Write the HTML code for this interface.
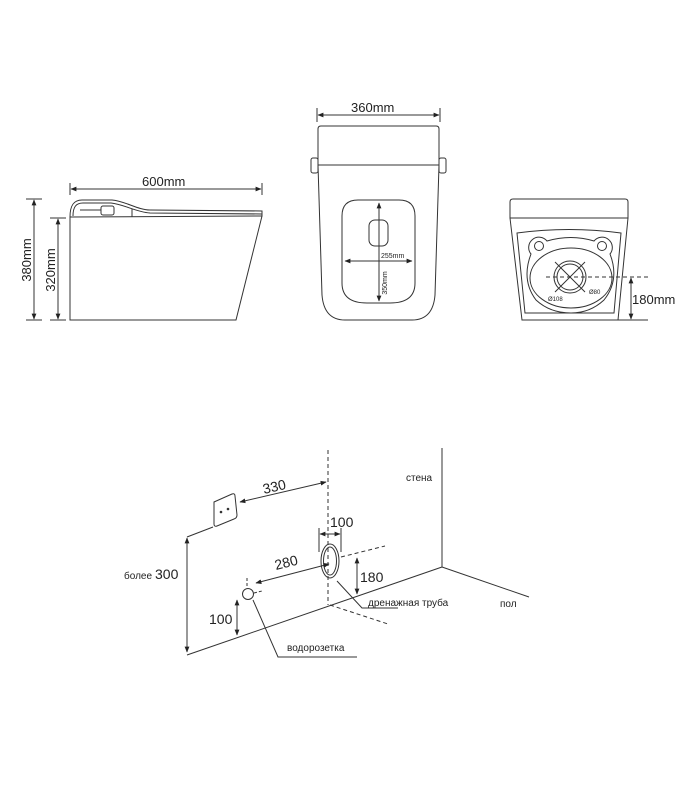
<!DOCTYPE html>
<html><head><meta charset="utf-8"><style>
html,body{margin:0;padding:0;background:#fff}
svg{display:block}
text{font-family:"Liberation Sans","DejaVu Sans",sans-serif;fill:#222}
</style></head><body>
<svg width="700" height="800" viewBox="0 0 700 800" xmlns="http://www.w3.org/2000/svg">
<defs>
<marker id="a" viewBox="0 0 10 10" refX="9" refY="5" markerWidth="6" markerHeight="6" orient="auto-start-reverse"><path d="M0,1 L10,5 L0,9 z" fill="#222"/></marker>
</defs>
<g stroke="#333" stroke-width="1" fill="none">
<!-- side view -->
<line x1="70" y1="183" x2="70" y2="195"/><line x1="262" y1="183" x2="262" y2="195"/>
<line x1="71" y1="189" x2="261" y2="189" marker-start="url(#a)" marker-end="url(#a)"/>
<path d="M70,217 C70,205 74,200 82,200 L112,200 C125,201 138,210 150,210 L262,211 L262,216 L70,217"/>
<path d="M73,216 C73,207 76,203 83,203 L111,203 C123,204 136,212 150,213 L262,214"/>
<rect x="101" y="206" width="13" height="9" rx="2"/>
<line x1="80" y1="210" x2="101" y2="210"/>
<line x1="132" y1="209" x2="132" y2="217"/>
<path d="M70,217 L70,320 L236,320 L262,216"/>
<line x1="26" y1="199" x2="42" y2="199"/><line x1="26" y1="320" x2="42" y2="320"/>
<line x1="34" y1="200" x2="34" y2="319" marker-start="url(#a)" marker-end="url(#a)"/>
<line x1="50" y1="218" x2="66" y2="218"/><line x1="50" y1="320" x2="66" y2="320"/>
<line x1="58" y1="219" x2="58" y2="319" marker-start="url(#a)" marker-end="url(#a)"/>
<!-- front view -->
<line x1="317" y1="108" x2="317" y2="122"/><line x1="440" y1="108" x2="440" y2="122"/>
<line x1="318" y1="115" x2="439" y2="115" marker-start="url(#a)" marker-end="url(#a)"/>
<path d="M321,126 L436,126 Q439,126 439,129 L439,165 L318,165 L318,129 Q318,126 321,126 Z"/>
<rect x="311" y="158" width="7" height="15" rx="2"/>
<rect x="439" y="158" width="7" height="15" rx="2"/>
<path d="M318,165 L322,295 Q324,320 345,320 L412,320 Q433,320 435,295 L439,165"/>
<path d="M358,200 L399,200 Q415,200 415,216 L415,283 Q415,303 390,303 L367,303 Q342,303 342,283 L342,216 Q342,200 358,200 Z"/>
<rect x="369" y="220" width="19" height="26" rx="6"/>
<line x1="379" y1="203" x2="379" y2="301" marker-start="url(#a)" marker-end="url(#a)"/>
<line x1="345" y1="261" x2="412" y2="261" marker-start="url(#a)" marker-end="url(#a)"/>
<!-- rear view -->
<path d="M513,199 L625,199 Q628,199 628,202 L628,218 L510,218 L510,202 Q510,199 513,199 Z"/>
<path d="M510,218 L522,320 L618,320 L628,218"/>
<path d="M517,233 Q569,226 621,233 L614,313 L525,313 Z"/>
<path d="M531,254 A9,9 0 1 1 547,241 Q571,234 594,241 A9,9 0 1 1 610,254 Q620,280 604,300 Q590,313 571,313 Q550,313 536,300 Q521,280 531,254 Z"/>
<circle cx="539" cy="246" r="4.5"/><circle cx="602" cy="246" r="4.5"/>
<ellipse cx="571" cy="278" rx="41" ry="30"/>
<circle cx="570" cy="277" r="16"/><circle cx="570" cy="277" r="13"/>
<line x1="555" y1="262" x2="585" y2="292"/><line x1="585" y1="262" x2="555" y2="292"/>
<line x1="546" y1="277" x2="648" y2="277" stroke-dasharray="4,3"/>
<line x1="618" y1="320" x2="648" y2="320"/>
<line x1="631" y1="278" x2="631" y2="319" marker-start="url(#a)" marker-end="url(#a)"/>
<!-- installation -->
<line x1="328" y1="450" x2="328" y2="605" stroke-dasharray="4,3"/>
<line x1="442" y1="448" x2="442" y2="567"/>
<line x1="442" y1="567" x2="529" y2="597"/>
<line x1="442" y1="567" x2="187" y2="655"/>
<path d="M214,502 L232,494 Q235,493 235,496 L237,515 Q237,518 234,519 L217,526 Q214,527 214,524 Z"/>
<line x1="187" y1="537" x2="213" y2="527"/>
<line x1="240" y1="502" x2="326" y2="482" marker-start="url(#a)" marker-end="url(#a)"/>
<line x1="187" y1="538" x2="187" y2="652" marker-start="url(#a)" marker-end="url(#a)"/>
<ellipse cx="330" cy="561" rx="9" ry="17"/><ellipse cx="330" cy="561" rx="6.5" ry="14"/>
<line x1="319" y1="528" x2="319" y2="552"/><line x1="341" y1="528" x2="341" y2="552"/>
<line x1="320" y1="534" x2="340" y2="534" marker-start="url(#a)" marker-end="url(#a)"/>
<line x1="341" y1="557" x2="385" y2="546" stroke-dasharray="4,3"/>
<line x1="357" y1="558" x2="357" y2="594" marker-start="url(#a)" marker-end="url(#a)"/>
<line x1="330" y1="605" x2="388" y2="624" stroke-dasharray="4,3"/>
<polyline points="337,581 362,608 398,608"/>
<line x1="256" y1="583" x2="329" y2="564" marker-start="url(#a)" marker-end="url(#a)"/>
<circle cx="248" cy="594" r="5.5"/>
<line x1="247" y1="578" x2="247" y2="588" stroke-dasharray="3,2"/>
<line x1="254" y1="593" x2="262" y2="591" stroke-dasharray="3,2"/>
<line x1="237" y1="600" x2="237" y2="635" marker-start="url(#a)" marker-end="url(#a)"/>
<polyline points="253,600 278,657 357,657"/>
</g>
<circle cx="221" cy="512" r="1.3" fill="#333"/><circle cx="228" cy="509" r="1.3" fill="#333"/>
<g font-size="13">
<text x="142" y="186">600mm</text>
<text x="351" y="112">360mm</text>
<text x="632" y="304">180mm</text>
<text transform="translate(31,260) rotate(-90)" text-anchor="middle">380mm</text>
<text transform="translate(55,270) rotate(-90)" text-anchor="middle">320mm</text>
</g>
<g font-size="7">
<text x="381" y="258">255mm</text>
<text transform="translate(387,283) rotate(-90)" text-anchor="middle">350mm</text>
<text x="589" y="294" font-size="6">Ø80</text>
<text x="548" y="301" font-size="6">Ø108</text>
</g>
<g font-size="14">
<text transform="translate(264,494) rotate(-13)">330</text>
<text transform="translate(276,570) rotate(-14)">280</text>
<text x="330" y="527">100</text>
<text x="360" y="582">180</text>
<text x="209" y="624">100</text>
<text x="155" y="579">300</text>
</g>
<g font-size="10">
<text x="406" y="481">стена</text>
<text x="124" y="579">более</text>
<text x="368" y="606">дренажная труба</text>
<text x="500" y="607">пол</text>
<text x="287" y="651">водорозетка</text>
</g>
</svg>
</body></html>
